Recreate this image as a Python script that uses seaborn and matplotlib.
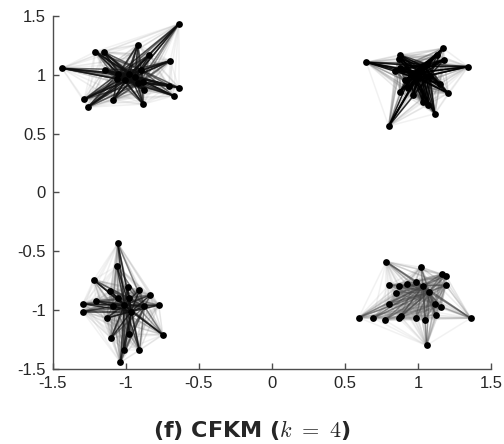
import numpy as np
import pandas as pd
import matplotlib
matplotlib.use("Agg")
import matplotlib.pyplot as plt
from matplotlib.collections import LineCollection
import seaborn as sns

# ---- data ----
c1_x = [-0.638, -0.919, -0.839, -1.209, -1.152, -0.697, -1.438, -1.145, -0.896, -1.051, -0.976, -1.063,
        -0.937, -1.005, -0.914, -0.882, -0.706, -0.638, -0.878, -0.674, -1.287, -1.086, -0.882, -1.262]
c1_y = [1.432, 1.257, 1.169, 1.197, 1.195, 1.119, 1.056, 1.042, 1.042, 1.011, 1.003, 0.966,
        0.980, 0.952, 0.929, 0.941, 0.909, 0.892, 0.873, 0.822, 0.791, 0.788, 0.751, 0.725]
c2_x = [1.173, 1.128, 1.180, 0.876, 0.869, 0.647, 1.344, 0.876, 0.846, 1.036, 1.059, 0.956,
        1.013, 1.082, 1.150, 0.933, 0.876, 1.207, 0.967, 1.036, 1.070, 1.116, 0.800, 0.992, 0.910]
c2_y = [1.225, 1.169, 1.130, 1.169, 1.136, 1.107, 1.070, 1.059, 1.036, 1.073, 1.093, 1.008,
        1.022, 0.994, 0.924, 0.886, 0.858, 0.844, 0.831, 0.768, 0.746, 0.669, 0.564, 0.971, 0.952]
c3_x = [-1.056, -1.063, -1.221, -1.106, -0.988, -0.907, -0.834, -0.976, -1.056, -1.204, -1.296, -1.091,
        -0.873, -0.775, -0.964, -1.296, -1.132, -0.748, -1.102, -0.976, -1.010, -0.907, -1.038, -1.010]
c3_y = [-0.432, -0.625, -0.743, -0.836, -0.805, -0.828, -0.873, -0.898, -0.898, -0.921, -0.947, -0.964,
        -0.969, -0.958, -1.012, -1.012, -1.068, -1.209, -1.237, -1.203, -1.342, -1.342, -1.444, -0.955]
c4_x = [0.782, 1.020, 1.162, 1.191, 0.986, 0.922, 0.871, 0.802, 1.036, 1.191, 0.853, 1.077, 0.800,
        1.114, 1.157, 1.121, 0.595, 0.693, 0.773, 0.869, 0.881, 0.986, 1.049, 1.361, 1.059]
c4_y = [-0.588, -0.636, -0.695, -0.707, -0.758, -0.780, -0.792, -0.788, -0.794, -0.788, -0.856, -0.845,
        -0.947, -0.949, -0.975, -1.042, -1.063, -1.068, -1.085, -1.068, -1.054, -1.068, -1.082, -1.068, -1.300]
hub_x = [-0.976, 1.013, -0.964, 1.077]
hub_y = [1.003, 1.022, -1.012, -0.845]

ticks = [-1.5, -1, -0.5, 0, 0.5, 1, 1.5]
tick_labels = ["-1.5", "-1", "-0.5", "0", "0.5", "1", "1.5"]
title_text = "(f) CFKM ("
title_math = r"$k\ =\ 4$"

clusters = [(c1_x, c1_y), (c2_x, c2_y), (c3_x, c3_y), (c4_x, c4_y)]
edge_strength = [0.9, 1.0, 0.9, 0.55]

sns.set_theme(style="white")
plt.rcParams["font.family"] = ["Liberation Sans", "DejaVu Sans"]
plt.rcParams["mathtext.fontset"] = "cm"

fig = plt.figure(figsize=(5.04, 4.44), dpi=100)
ax = fig.add_axes([0.105, 0.169, 0.869, 0.795])

for ci, (cx, cy) in enumerate(clusters):
    P = np.column_stack([cx, cy])
    hub = np.array([hub_x[ci], hub_y[ci]])
    r = np.linalg.norm(P - hub, axis=1)
    cen = np.exp(-(r / 0.13) ** 2)
    segs, cols = [], []
    n = len(P)
    for i in range(n):
        for j in range(i + 1, n):
            d = max(cen[i], cen[j])
            segs.append([P[i], P[j]])
            cols.append(d)
    cols = np.array(cols)
    order = np.argsort(cols)
    segs = [segs[k] for k in order]
    cols = cols[order]
    rgba = []
    s = edge_strength[ci]
    for v in cols:
        t = min(1.0, v * 1.3)
        g = 0.6 * (1 - s * t)
        a = 0.13 + 0.75 * s * t
        rgba.append((g, g, g, a))
    lc = LineCollection(segs, colors=rgba, linewidths=1.1, zorder=1)
    ax.add_collection(lc)

allx = c1_x + c2_x + c3_x + c4_x
ally = c1_y + c2_y + c3_y + c4_y
df = pd.DataFrame({"x": allx, "y": ally})
sns.scatterplot(data=df, x="x", y="y", ax=ax, color="black", s=24, edgecolor="black",
                linewidth=0, zorder=3)

ax.set_xlim(-1.5, 1.5)
ax.set_ylim(-1.5, 1.5)
ax.set_xticks(ticks)
ax.set_xticklabels(tick_labels)
ax.set_yticks(ticks)
ax.set_yticklabels(tick_labels)
ax.set_xlabel("")
ax.set_ylabel("")
for side in ["top", "right"]:
    ax.spines[side].set_visible(False)
for side in ["left", "bottom"]:
    ax.spines[side].set_color("#4d4d4d")
    ax.spines[side].set_linewidth(1.0)
ax.tick_params(direction="in", length=4, width=1, color="#4d4d4d", labelsize=12,
               labelcolor="#262626", left=True, bottom=True, pad=5)

fig.text(0.5, 0.032, title_text + title_math + ")", ha="center", va="center", fontsize=16,
         fontweight="bold", family=["DejaVu Sans"])

fig.savefig("out.png", dpi=100)
